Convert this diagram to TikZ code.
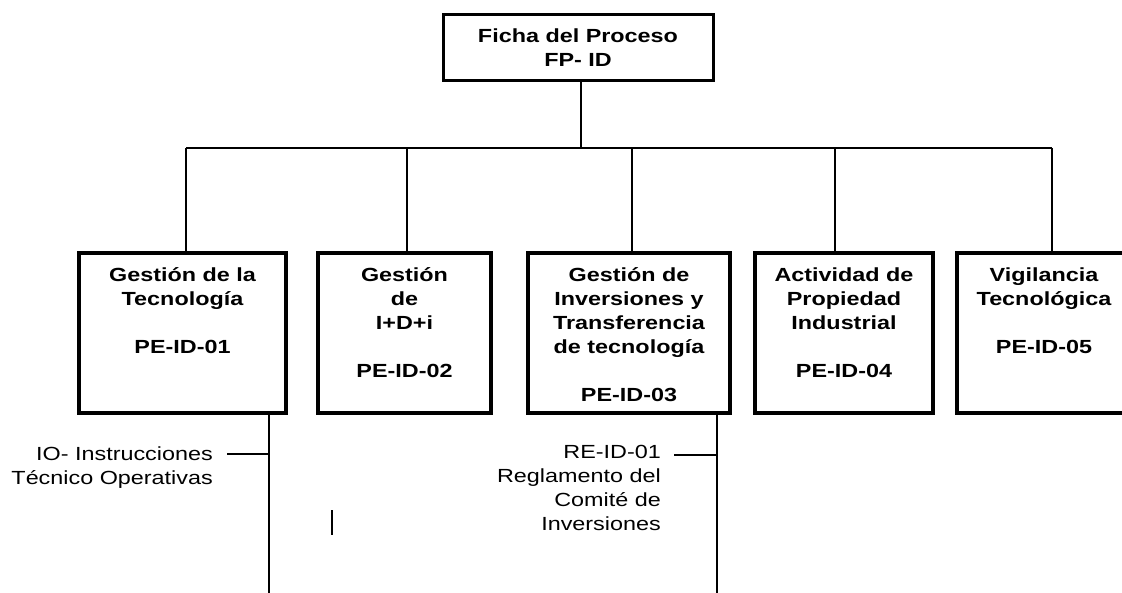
\documentclass[tikz,border=0pt]{standalone}
\usepackage{fontspec}
\setmainfont{Liberation Sans}[FakeStretch=1.23]
\usetikzlibrary{positioning}
\tikzset{
  % caja de la ficha
  head/.style={draw, line width=3pt, inner sep=0pt, minimum width=270pt,
    minimum height=66pt, align=center, font=\bfseries\fontsize{19}{24}\selectfont},
  % cajas de los procesos
  proc/.style={draw, line width=3.3pt, inner sep=0pt, minimum height=160pt},
  proctxt/.style={inner sep=0pt, align=center, font=\bfseries\fontsize{19}{24}\selectfont},
  % documentos asociados
  doc/.style={inner sep=0pt, align=right, font=\fontsize{19}{24}\selectfont},
  % lineas
  link/.style={line width=1.5pt},
  branch/.style={line width=2.8pt},
}
\begin{document}
\begin{tikzpicture}[x=1pt, y=-1pt]
    \clip (0,0) rectangle (1122,593);

    % ficha del proceso
    \node[head] (fp) at (578,48) {Ficha del Proceso\\FP- ID};

    % procesos
    \node[proc, minimum width=207pt] (g1) at (182.5,333) {};
    \node[proc, minimum width=173pt] (g2) at (404.5,333) {};
    \node[proc, minimum width=202pt] (g3) at (629,333) {};
    \node[proc, minimum width=178pt] (g4) at (844,333) {};
    \node[proc, minimum width=174pt] (g5) at (1044,333) {};

    \node[proctxt, below=16pt of g1.north] (t1) {Gestión de la\\Tecnología\\[24pt]PE-ID-01};
    \node[proctxt, below=16pt of g2.north] (t2) {Gestión\\de\\I+D+i\\[24pt]PE-ID-02};
    \node[proctxt, below=16pt of g3.north] (t3) {Gestión de\\Inversiones y\\Transferencia\\de tecnología\\[24pt]PE-ID-03};
    \node[proctxt, below=16pt of g4.north] (t4) {Actividad de\\Propiedad\\Industrial\\[24pt]PE-ID-04};
    \node[proctxt, below=16pt of g5.north] (t5) {Vigilancia\\Tecnológica\\[24pt]PE-ID-05};

    % conexiones
    \coordinate (j0) at (581,148);
    \coordinate (j1) at (186,148);
    \coordinate (j2) at (407,148);
    \coordinate (j3) at (632,148);
    \coordinate (j4) at (835,148);
    \coordinate (j5) at (1052,148);
    \draw[link] (fp.south -| j0) -- (j0);
    \draw[link] (j1) -- (j5);
    \foreach \i in {1,...,5}
        \draw[link] (j\i) -- (j\i |- g\i.north);

    % documentos
    \coordinate (l1) at (269,593);
    \coordinate (l3) at (717,593);
    \draw[branch] (g1.south -| l1) -- (l1);
    \draw[branch] (g3.south -| l3) -- (l3);

    \node[doc, anchor=north east] (io) at (213,446.5) {IO- Instrucciones\\Técnico Operativas};
    \node[doc, anchor=north east] (re) at (661,445.5) {RE-ID-01\\Reglamento del\\Comité de\\Inversiones};
    \coordinate (k1) at (227,454);
    \coordinate (k3) at (674,455);
    \draw[branch] (k1) -- (k1 -| l1);
    \draw[branch] (k3) -- (k3 -| l3);

    \coordinate (m1) at (332,510);
    \draw[link] (m1) -- ++(0,25);
\end{tikzpicture}
\end{document}
